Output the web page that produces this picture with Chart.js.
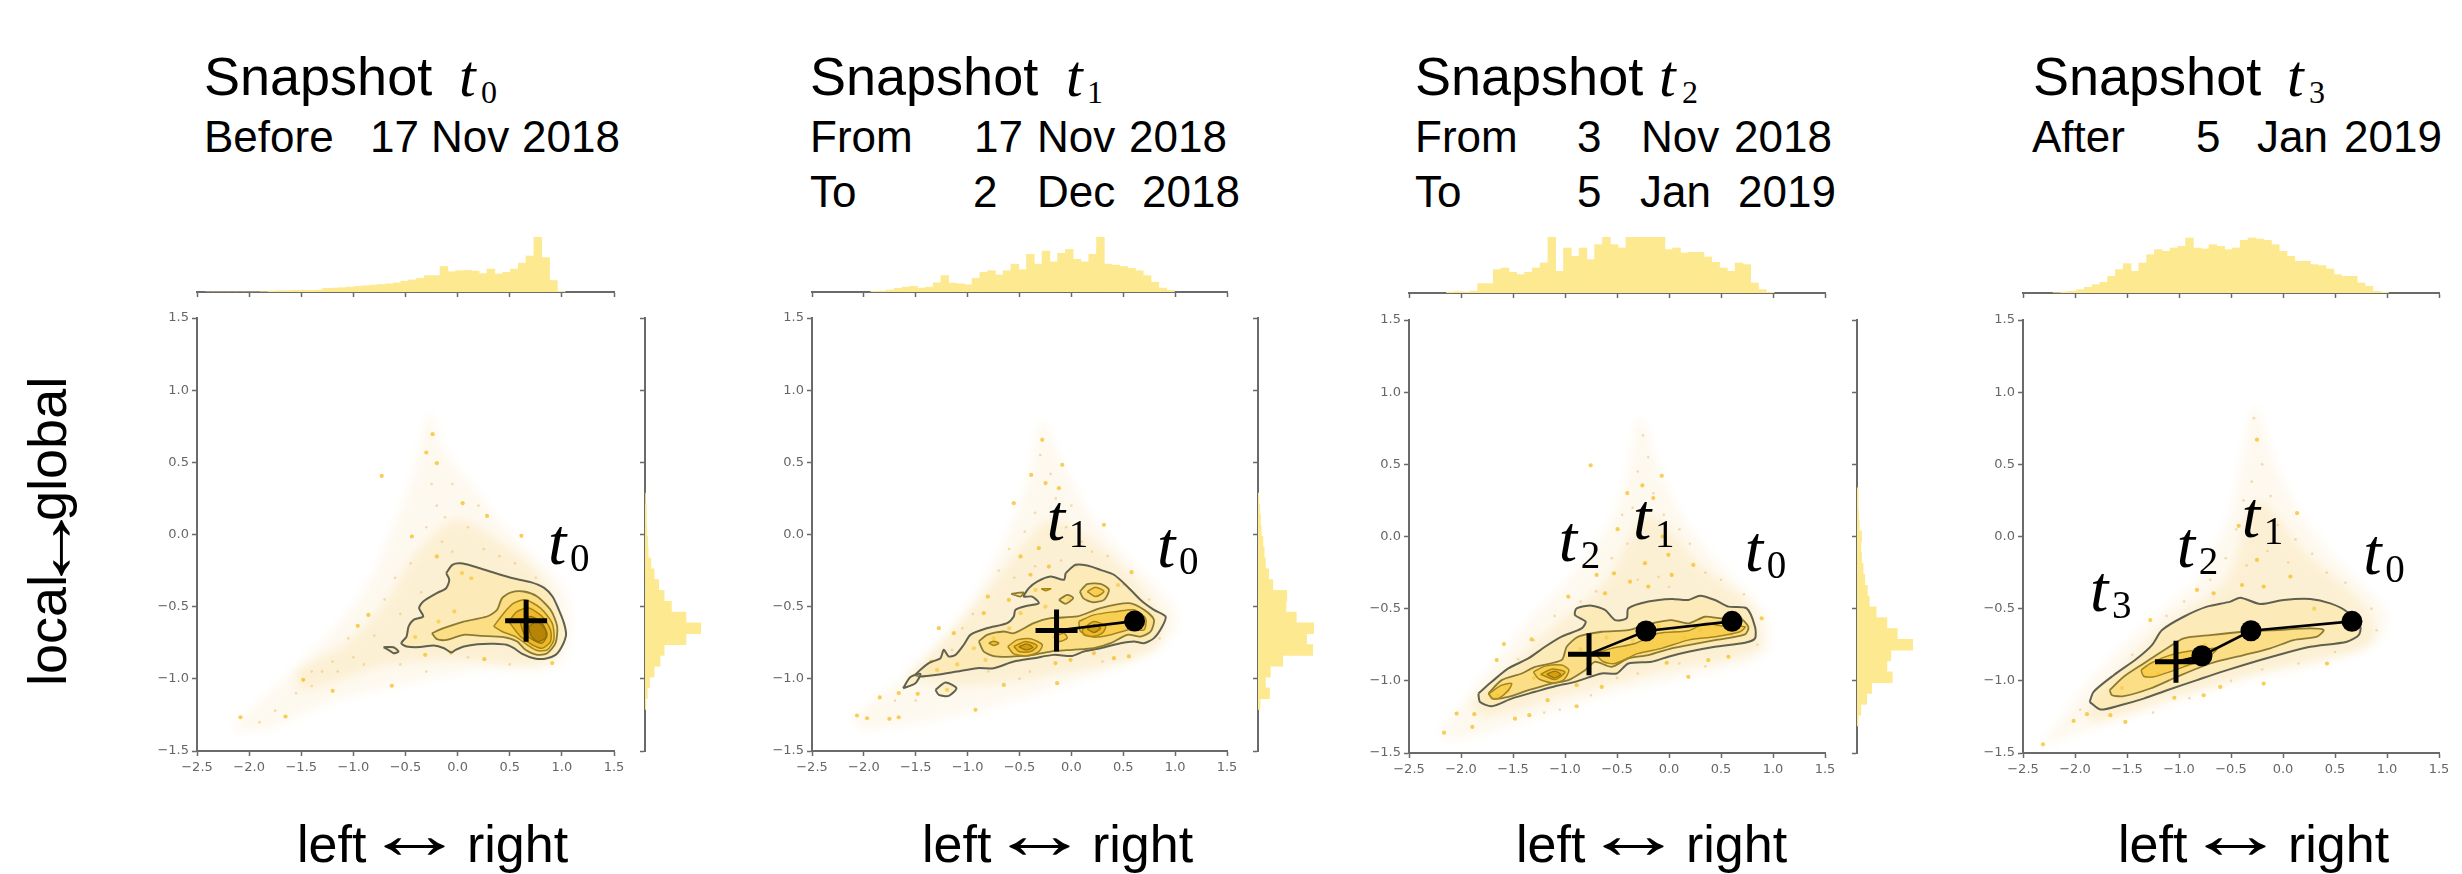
<!DOCTYPE html>
<html><head><meta charset="utf-8">
<script src="https://cdn.jsdelivr.net/npm/chart.js@4/dist/chart.umd.js"></script>
<style>
html,body{margin:0;padding:0;background:#fff;width:2462px;height:874px;overflow:hidden}
canvas{position:absolute;display:block;filter:blur(.35px)}
canvas.cloud{filter:blur(5px)}
.txt{position:absolute;white-space:nowrap;color:#000;font-family:"Liberation Sans",Arimo,sans-serif}
.math{position:absolute;white-space:nowrap;color:#000;font-family:"Liberation Serif",serif}
</style></head><body>
<script>
/* ---------- text ---------- */
const snapshotWord = 'Snapshot';
const axisXWords = ['left','\u2194','right'];
const axisYWords = ['local','\u2194','global'];
const t0Rows = [['Before','17','Nov','2018']];
const t1Rows = [['From','17','Nov','2018'],['To','2','Dec','2018']];
const t2Rows = [['From','3','Nov','2018'],['To','5','Jan','2019']];
const t3Rows = [['After','5','Jan','2019']];
const axisTicks = [-2.5,-2,-1.5,-1,-0.5,0,0.5,1,1.5];

/* ---------- top histograms ---------- */
const t0TopStart = -2.381;
const t0TopCounts = [0,0,0,0,0,0,0,1,3,4,4,5,5,5,6,11,12,13,15,17,19,21,23,25,28,33,37,42,50,50,78,62,65,66,64,56,70,55,60,70,88,110,168,105,35,2];
const t1TopStart = -1.895;
const t1TopCounts = [2,3,6,11,15,17,12,15,28,50,27,25,22,42,60,65,52,65,85,68,115,85,125,92,118,130,100,92,115,168,85,82,78,72,65,50,30,12,5];
const t2TopStart = -2.102;
const t2TopCounts = [3,4,3,6,28,28,70,75,62,55,62,75,90,168,65,135,110,135,100,145,168,145,135,168,168,168,168,168,130,135,120,122,122,108,92,75,65,90,85,30,10,2];
const t3TopStart = -2.174;
const t3TopCounts = [1,3,5,10,17,25,32,50,70,88,65,90,115,130,125,135,140,165,135,132,145,140,130,135,158,165,162,158,145,125,110,95,95,85,82,72,55,50,50,30,20,5,2];

/* ---------- right histograms ---------- */
const t0RightStart = 0.25;
const t0RightCounts = [1,3,3,4,6,7,13,20,30,42,58,90,123,90,42,33,20,10,5,2];
const t1RightStart = 0.25;
const t1RightCounts = [2,4,6,8,12,15,18,26,36,70,68,93,136,118,133,60,30,18,28,5];
const t2RightStart = 0.3;
const t2RightCounts = [3,3,4,6,12,10,12,16,20,27,32,50,78,105,146,88,78,92,38,25,10,3];

/* ---------- trajectories ---------- */
const t0Cross = [[0.657,-0.598]];
const t0Dots = [];
const t1Cross = [[-0.143,-0.665]];
const t1Dots = [[0.609,-0.600]];
const t2Cross = [[-0.769,-0.815]];
const t2Dots = [[-0.221,-0.655],[0.606,-0.588]];
const t3Cross = [[-1.029,-0.868]];
const t3Dots = [[-0.779,-0.826],[-0.308,-0.653],[0.663,-0.588]];

/* ---------- labels inside the plots ---------- */
const t0Marks = [['0',0.885,-0.200]];
const t1Marks = [['1',-0.217,-0.037],['0',0.844,-0.222]];
const t2Marks = [['2',-1.042,-0.167],['1',-0.327,-0.019],['0',0.747,-0.236]];
const t3Marks = [['3',-1.837,-0.514],['2',-1.003,-0.208],['1',-0.378,0.000],['0',0.792,-0.259]];

/* ---------- faint density clouds ---------- */
const t0CloudOuter = [[-2.186,-1.353],[-1.705,-1.03],[-1.224,-0.684],[-0.872,-0.36],[-0.615,0.055],[-0.423,0.425],[-0.263,0.841],[-0.135,0.587],[0.154,0.333],[0.41,0.079],[1.019,-0.383],[1.083,-0.684],[0.955,-0.915],[0.218,-0.938],[-0.615,-1.053],[-1.16,-1.145],[-1.865,-1.353]];
const t0CloudInner = [[-1.545,-0.938],[-1.064,-0.753],[-0.679,-0.453],[-0.423,-0.152],[-0.038,0.102],[0.282,0.009],[0.859,-0.36],[0.891,-0.868],[-0.103,-0.868],[-0.744,-0.915],[-1.128,-1.007],[-1.513,-1.076]];
const t1CloudOuter = [[-2.13,-1.284],[-1.584,-0.961],[-1.069,-0.568],[-0.683,-0.106],[-0.426,0.356],[-0.281,0.794],[-0.104,0.517],[0.153,0.171],[0.474,-0.106],[0.989,-0.499],[0.989,-0.684],[0.603,-0.868],[-0.104,-1.053],[-1.005,-1.238],[-1.969,-1.353]];
const t1CloudInner = [[-1.6,-1.0],[-1.0,-0.55],[-0.55,-0.15],[-0.2,0.1],[0.3,-0.1],[0.85,-0.55],[0.8,-0.8],[0.0,-0.95],[-1.0,-1.05]];
const t2CloudOuter = [[-2.218,-1.366],[-1.737,-0.926],[-1.288,-0.532],[-1.032,-0.347],[-0.583,0.069],[-0.391,0.463],[-0.279,0.833],[-0.103,0.486],[0.186,0.069],[0.571,-0.255],[0.923,-0.532],[0.923,-0.81],[0.186,-0.972],[-0.551,-1.088],[-1.353,-1.273],[-2.058,-1.412]];
const t2CloudInner = [[-1.9,-1.15],[-1.2,-0.68],[-0.6,-0.3],[-0.2,0.15],[0.3,-0.2],[0.8,-0.5],[0.85,-0.78],[0,-0.92],[-1,-1.1],[-1.8,-1.25]];
const t3CloudOuter = [[-2.333,-1.458],[-1.853,-0.995],[-1.276,-0.579],[-0.827,-0.301],[-0.506,0.162],[-0.378,0.602],[-0.266,0.903],[-0.09,0.532],[0.199,0.116],[0.583,-0.208],[1.0,-0.532],[0.904,-0.718],[0.263,-0.903],[-0.378,-0.995],[-1.18,-1.181],[-1.981,-1.366]];
const t3CloudInner = [[-1.9,-1.2],[-1.2,-0.65],[-0.55,-0.3],[-0.25,0.25],[0.2,-0.1],[0.8,-0.5],[0.85,-0.75],[0,-0.9],[-1,-1.1],[-1.8,-1.28]];

/* ---------- scatter points ---------- */
const t0Bright = [[0.048,0.217],[-0.439,-0.014],[-0.199,-0.152],[0.042,-0.268],[0.131,-0.303],[-0.032,-0.533],[-0.856,-0.557],[-0.958,-0.633],[-1.481,-1.007],[-1.199,-1.083],[-1.651,-1.261],[-2.083,-1.266],[-0.301,0.568],[-0.199,0.494],[-0.24,0.695],[-0.728,0.406],[0.282,0.129],[0.612,-0.009],[-0.631,-1.048],[0.256,-0.864],[-0.064,-0.818],[0.907,-0.891],[-0.183,-0.603],[-0.407,-0.711],[-0.311,-0.834]];
const t0Faint = [[-0.6,-0.3],[-0.45,-0.2],[-0.3,0.05],[-0.2,0.2],[-0.05,0.35],[0.1,0.05],[0.25,-0.1],[0.4,-0.15],[0.55,-0.2],[0.75,-0.3],[-0.7,-0.45],[-0.8,-0.7],[-1.0,-0.85],[-1.15,-0.95],[-1.3,-0.95],[-1.4,-1.05],[-1.55,-1.1],[-1.75,-1.22],[-1.9,-1.3],[-1.05,-0.72],[-0.9,-0.9],[-0.55,-0.9],[-0.3,-0.95],[0.1,-0.85],[0.5,-0.9],[-0.15,-0.05],[-0.05,-0.12],[0.2,0.2],[-0.35,-0.4],[-0.55,-0.55],[-0.25,0.35],[-0.12,0.12],[-1.2,-0.88],[-1.4,-0.95]];
const t1Bright = [[-2.066,-1.254],[-1.969,-1.273],[-1.754,-1.277],[-1.664,-1.266],[-0.924,-1.215],[-1.847,-1.129],[-1.664,-1.099],[-1.481,-1.104],[-1.294,-0.938],[-1.278,-0.649],[-1.133,-0.684],[-0.844,-0.545],[-0.805,-0.43],[-0.555,0.217],[-0.387,0.413],[-0.281,0.656],[-0.249,0.356],[-0.088,0.483],[-0.12,0.321],[0.314,0.067],[-0.314,-0.095],[-0.49,-0.152],[0.58,-0.261],[-0.137,-1.03],[-0.651,-1.042],[-0.153,-0.891],[-0.008,-0.868],[0.217,-0.822],[0.41,-0.857],[0.555,-0.845],[-0.346,-0.383],[-0.49,-0.545],[-0.94,-0.788],[-0.828,-0.868],[-1.198,-1.076],[-0.394,-0.279],[-0.217,-0.222],[-0.603,-0.453],[-0.6,-0.65],[-0.15,-0.72],[-0.02,-0.45],[-0.25,-0.5],[0.45,-0.35],[-1.1,-0.9],[-1.35,-0.88],[-0.75,-0.72]];
const t1Faint = [[-0.3,0.55],[-0.2,0.42],[-0.15,0.25],[0,0.2],[-0.35,0.15],[-0.45,0.02],[-0.6,-0.1],[-0.7,-0.25],[0.1,-0.05],[0.2,-0.12],[0.35,-0.15],[0.5,-0.35],[0.75,-0.45],[0.85,-0.72],[0.3,-0.88],[-0.4,-0.95],[-0.95,-0.55],[-1.05,-0.65],[-1.15,-0.8],[-1.5,-1.15],[-1.7,-1.15],[-0.8,-0.95],[-0.5,-1.0],[-0.05,0.05],[-0.2,0.0],[-0.1,-0.18],[-0.35,-0.22],[0.05,-0.22],[-0.55,-0.3]];
const t2Bright = [[-2.163,-1.359],[-2.042,-1.227],[-1.872,-1.231],[-1.891,-1.319],[-1.481,-1.262],[-1.343,-1.238],[-0.888,-1.176],[-1.167,-1.134],[-1.587,-0.745],[-1.657,-0.856],[-1.321,-0.713],[-0.494,0.051],[-0.256,0.354],[-0.753,0.493],[-0.151,0.266],[-0.061,0],[-0.696,-0.266],[-0.529,-0.255],[-0.375,-0.313],[-0.231,-0.185],[0.026,-0.266],[0.234,-0.197],[-0.006,-0.127],[-0.401,0.301],[-0.07,0.421],[-0.647,-1.042],[-0.022,-0.875],[0.186,-0.972],[0.378,-0.856],[0.571,-0.833],[-0.199,-0.347],[-0.968,-0.417],[0.891,-0.567],[-0.888,-1.03],[-0.615,-0.394],[-0.1,-0.62],[0.05,-0.65],[0.15,-0.7],[0.3,-0.65],[0.45,-0.62],[0.6,-0.68],[-0.35,-0.72],[-0.6,-0.7],[-0.85,-0.78],[-1.3,-0.98],[-1.55,-1.07],[-1.65,-1.1]];
const t2Faint = [[-0.25,0.7],[-0.2,0.55],[-0.3,0.45],[-0.15,0.3],[-0.35,0.2],[-0.45,0.15],[-0.05,0.15],[0.1,0.05],[0.2,-0.05],[-0.4,-0.05],[-0.55,-0.15],[-0.7,-0.38],[-0.85,-0.45],[-1.1,-0.55],[-1.3,-0.72],[-1.45,-0.85],[0.35,-0.25],[0.5,-0.3],[0.72,-0.4],[0.85,-0.75],[0.35,-0.9],[0.1,-0.88],[-0.3,-0.95],[-0.5,-0.98],[-0.75,-1.1],[-1.05,-1.2],[-1.2,-1.22],[0.0,-0.35],[-0.1,-0.28],[-0.3,-0.3]];
const t3Bright = [[-1.045,-1.118],[-2.308,-1.44],[-2.013,-1.278],[-1.885,-1.231],[-1.516,-1.285],[-1.66,-1.238],[-0.426,0.074],[-0.25,0.671],[-0.827,-0.37],[-0.667,-0.394],[-0.394,-0.336],[-0.186,-0.347],[0.135,0.162],[-0.763,-1.1],[0.423,-0.88],[-0.603,-1.042],[-0.186,-1.019],[-1.276,-0.579],[-0.25,-0.162],[0.071,-0.278],[-1.55,-1.05],[-1.2,-0.95],[-0.75,-0.75],[0.3,-0.5],[0.25,-0.62]];
const t3Faint = [[-0.28,0.82],[-0.2,0.5],[-0.3,0.38],[-0.12,0.28],[-0.38,0.25],[-0.45,0.05],[-0.05,0.08],[0.12,-0.02],[0.28,-0.12],[-0.55,-0.15],[-0.7,-0.3],[-0.95,-0.45],[-1.12,-0.55],[-1.45,-0.82],[-1.6,-0.95],[0.42,-0.25],[0.6,-0.32],[0.85,-0.5],[0.9,-0.65],[0.5,-0.8],[0.15,-0.88],[-0.2,-0.92],[-0.5,-1.0],[-0.9,-1.12],[-1.25,-1.22],[-1.95,-1.2],[-0.15,-0.1],[0.05,-0.18],[-0.35,-0.2]];

/* ---------- density contours, panel t0 ---------- */
const t0C1 = [[-0.11,-0.268],[-0.05,-0.21],[0.03,-0.2],[0.15,-0.22],[0.31,-0.256],[0.51,-0.3],[0.7,-0.33],[0.83,-0.37],[0.91,-0.43],[0.97,-0.52],[1.02,-0.614],[1.04,-0.695],[1.0,-0.776],[0.94,-0.834],[0.84,-0.861],[0.73,-0.857],[0.62,-0.827],[0.54,-0.788],[0.47,-0.764],[0.35,-0.757],[0.19,-0.76],[0.06,-0.776],[-0.02,-0.8],[-0.06,-0.818],[-0.13,-0.788],[-0.23,-0.769],[-0.36,-0.78],[-0.49,-0.776],[-0.54,-0.753],[-0.49,-0.707],[-0.47,-0.637],[-0.42,-0.59],[-0.33,-0.568],[-0.37,-0.51],[-0.33,-0.464],[-0.2,-0.406],[-0.11,-0.372],[-0.08,-0.314]];
const t0C2 = [[-0.247,-0.684],[-0.135,-0.649],[0.058,-0.603],[0.282,-0.568],[0.378,-0.522],[0.426,-0.441],[0.506,-0.402],[0.635,-0.395],[0.763,-0.43],[0.891,-0.522],[0.955,-0.637],[0.939,-0.753],[0.859,-0.822],[0.763,-0.834],[0.651,-0.799],[0.571,-0.741],[0.442,-0.711],[0.218,-0.702],[0.058,-0.695],[-0.103,-0.73],[-0.199,-0.725]];
const t0C3 = [[0.346,-0.637],[0.442,-0.545],[0.538,-0.476],[0.651,-0.453],[0.795,-0.51],[0.907,-0.614],[0.923,-0.73],[0.859,-0.799],[0.763,-0.804],[0.667,-0.764],[0.554,-0.707],[0.426,-0.672]];
const t0C4 = [[0.49,-0.603],[0.571,-0.533],[0.683,-0.51],[0.811,-0.568],[0.891,-0.661],[0.891,-0.741],[0.811,-0.788],[0.715,-0.764],[0.603,-0.707]];
const t0C5 = [[0.603,-0.614],[0.699,-0.568],[0.811,-0.614],[0.859,-0.695],[0.811,-0.753],[0.731,-0.734],[0.635,-0.684]];
const t0C6 = [[0.683,-0.637],[0.763,-0.603],[0.843,-0.661],[0.843,-0.718],[0.763,-0.741],[0.699,-0.695]];
const t0Isle = [[-0.712,-0.781],[-0.616,-0.781],[-0.567,-0.811],[-0.616,-0.822],[-0.664,-0.799]];

/* ---------- density contours, panel t1 ---------- */
const t1C1 = [[-0.056,-0.268],[0.04,-0.21],[0.153,-0.215],[0.281,-0.245],[0.41,-0.279],[0.539,-0.36],[0.667,-0.453],[0.796,-0.522],[0.908,-0.568],[0.876,-0.637],[0.796,-0.718],[0.7,-0.753],[0.603,-0.741],[0.474,-0.753],[0.281,-0.788],[0.12,-0.811],[0.008,-0.841],[-0.169,-0.834],[-0.362,-0.857],[-0.555,-0.88],[-0.748,-0.926],[-0.908,-0.926],[-1.101,-0.949],[-1.294,-0.972],[-1.455,-0.984],[-1.503,-0.972],[-1.375,-0.891],[-1.262,-0.857],[-1.23,-0.799],[-1.182,-0.845],[-1.117,-0.834],[-1.037,-0.764],[-0.973,-0.695],[-0.812,-0.649],[-0.619,-0.614],[-0.555,-0.568],[-0.539,-0.522],[-0.426,-0.494],[-0.314,-0.476],[-0.378,-0.43],[-0.458,-0.43],[-0.41,-0.372],[-0.33,-0.326],[-0.201,-0.291],[-0.072,-0.314]];
const t1C2 = [[-0.892,-0.741],[-0.812,-0.695],[-0.651,-0.672],[-0.555,-0.684],[-0.362,-0.614],[-0.201,-0.58],[0.056,-0.568],[0.281,-0.51],[0.555,-0.476],[0.7,-0.522],[0.796,-0.591],[0.764,-0.672],[0.667,-0.707],[0.539,-0.695],[0.378,-0.753],[0.217,-0.788],[0.008,-0.799],[-0.201,-0.811],[-0.362,-0.834],[-0.555,-0.845],[-0.732,-0.845],[-0.844,-0.811]];
const t1C3 = [[0.072,-0.603],[0.217,-0.557],[0.442,-0.533],[0.603,-0.522],[0.715,-0.58],[0.7,-0.66],[0.555,-0.66],[0.378,-0.695],[0.217,-0.711],[0.088,-0.672]];
const t1C4 = [[0.104,-0.66],[0.217,-0.603],[0.33,-0.637],[0.297,-0.684],[0.201,-0.707],[0.12,-0.695]];
const t1C5 = [[0.153,-0.656],[0.217,-0.626],[0.281,-0.649],[0.217,-0.679]];
const t1C6 = [[-0.613,-0.776],[-0.522,-0.73],[-0.394,-0.723],[-0.281,-0.764],[-0.314,-0.811],[-0.426,-0.841],[-0.555,-0.827]];
const t1C7 = [[-0.555,-0.776],[-0.442,-0.741],[-0.33,-0.771],[-0.394,-0.811],[-0.506,-0.811]];
const t1C8 = [[-0.506,-0.778],[-0.432,-0.758],[-0.371,-0.782],[-0.432,-0.8]];
const t1C9 = [[-0.796,-0.753],[-0.748,-0.739],[-0.699,-0.753],[-0.748,-0.769]];
const t1Ring = [[0.082,-0.395],[0.153,-0.344],[0.281,-0.342],[0.362,-0.383],[0.314,-0.453],[0.201,-0.469],[0.114,-0.441]];
const t1RingIn = [[0.153,-0.395],[0.233,-0.365],[0.314,-0.395],[0.233,-0.43]];
const t1Small1 = [[-0.12,-0.453],[-0.04,-0.418],[0.018,-0.441],[-0.056,-0.48]];
const t1Small2 = [[-0.29,-0.376],[-0.2,-0.376],[-0.25,-0.39]];
const t1Small3 = [[-0.58,-0.411],[-0.46,-0.402],[-0.49,-0.43]];
const t1Small4 = [[-0.169,-0.707],[-0.072,-0.684],[-0.04,-0.718],[-0.12,-0.741]];
const t1Isle1 = [[-1.31,-1.076],[-1.214,-1.025],[-1.108,-1.065],[-1.182,-1.118],[-1.278,-1.111]];
const t1Isle2 = [[-1.622,-1.065],[-1.551,-0.988],[-1.455,-0.965],[-1.503,-1.03]];

/* ---------- density contours, panel t2 ---------- */
const t2C1 = [[-1.833,-1.088],[-1.705,-1.007],[-1.545,-0.914],[-1.353,-0.845],[-1.192,-0.764],[-1.032,-0.694],[-0.84,-0.637],[-0.801,-0.59],[-0.904,-0.544],[-0.888,-0.498],[-0.744,-0.479],[-0.615,-0.509],[-0.519,-0.579],[-0.407,-0.567],[-0.391,-0.498],[-0.199,-0.451],[0.026,-0.433],[0.186,-0.44],[0.298,-0.41],[0.442,-0.44],[0.571,-0.486],[0.747,-0.498],[0.827,-0.625],[0.827,-0.706],[0.731,-0.736],[0.442,-0.764],[0.186,-0.799],[-0.006,-0.833],[-0.167,-0.868],[-0.391,-0.88],[-0.503,-0.949],[-0.647,-0.949],[-0.904,-1.007],[-1.096,-1.037],[-1.288,-1.076],[-1.513,-1.123],[-1.705,-1.176],[-1.817,-1.146]];
const t2C2 = [[-1.737,-1.088],[-1.609,-0.995],[-1.417,-0.949],[-1.288,-0.903],[-1.032,-0.856],[-0.984,-0.764],[-0.872,-0.694],[-0.647,-0.66],[-0.391,-0.648],[-0.135,-0.597],[0.026,-0.579],[0.186,-0.602],[0.346,-0.556],[0.506,-0.567],[0.667,-0.556],[0.763,-0.625],[0.731,-0.678],[0.442,-0.718],[0.186,-0.752],[0.026,-0.775],[-0.199,-0.822],[-0.391,-0.845],[-0.551,-0.903],[-0.712,-0.868],[-0.808,-0.926],[-0.968,-0.995],[-1.128,-1.019],[-1.353,-1.065],[-1.545,-1.111],[-1.689,-1.123]];
const t2C3 = [[-0.712,-0.81],[-0.551,-0.775],[-0.327,-0.741],[-0.103,-0.671],[0.186,-0.653],[0.346,-0.602],[0.506,-0.62],[0.731,-0.625],[0.683,-0.66],[0.442,-0.695],[0.186,-0.718],[-0.071,-0.775],[-0.295,-0.81],[-0.519,-0.88],[-0.631,-0.868]];
const t2C4 = [[-1.731,-1.088],[-1.609,-1.03],[-1.513,-1.019],[-1.545,-1.065],[-1.641,-1.123],[-1.705,-1.123]];
const t2C5 = [[-1.304,-0.938],[-1.192,-0.898],[-1.032,-0.891],[-0.962,-0.926],[-1.016,-0.995],[-1.128,-1.014],[-1.256,-0.984]];
const t2C6 = [[-1.234,-0.954],[-1.128,-0.919],[-1.0,-0.938],[-1.096,-0.991]];
const t2C7 = [[-1.176,-0.954],[-1.096,-0.933],[-1.042,-0.956],[-1.103,-0.979]];

/* ---------- density contours, panel t3 ---------- */
const t3C1 = [[-1.859,-1.146],[-1.821,-1.076],[-1.628,-0.961],[-1.404,-0.845],[-1.26,-0.752],[-1.163,-0.648],[-0.955,-0.556],[-0.731,-0.486],[-0.506,-0.451],[-0.41,-0.424],[-0.218,-0.468],[0.006,-0.44],[0.263,-0.433],[0.455,-0.463],[0.615,-0.521],[0.744,-0.625],[0.728,-0.683],[0.615,-0.729],[0.263,-0.764],[0.006,-0.81],[-0.218,-0.856],[-0.538,-0.926],[-0.827,-0.995],[-1.115,-1.065],[-1.34,-1.123],[-1.564,-1.169],[-1.756,-1.199]];
const t3C2 = [[-1.667,-1.065],[-1.532,-0.972],[-1.34,-0.88],[-1.115,-0.775],[-0.955,-0.706],[-0.699,-0.683],[-0.378,-0.66],[-0.058,-0.648],[0.263,-0.637],[0.391,-0.648],[0.327,-0.694],[0.103,-0.718],[-0.122,-0.775],[-0.378,-0.822],[-0.699,-0.88],[-1.019,-0.972],[-1.276,-1.053],[-1.532,-1.106],[-1.644,-1.1]];
const t3C3 = [[-1.365,-0.926],[-1.276,-0.88],[-1.083,-0.822],[-0.827,-0.787],[-0.635,-0.775],[-0.715,-0.833],[-0.955,-0.903],[-1.244,-0.972],[-1.34,-0.968]];

/* ---------- styling tables ---------- */
const LEVELS = [
 null,
 {line:'#60604f',w:2,   fill:'rgba(251,222,135,.34)'},
 {line:'#8a7a32',w:1.8, fill:'rgba(250,210,80,.50)'},
 {line:'#a5841e',w:1.5, fill:'rgba(246,195,40,.55)'},
 {line:'#a88410',w:1.5, fill:'rgba(232,170,20,.62)'},
 {line:'#94740a',w:1.3, fill:'rgba(205,150,10,.75)'},
 {line:'#8a6c08',w:1.2, fill:'rgba(178,130,6,.90)'}
];
const PANELS = [
 {x0:197,x1:614,y0:318,y1:751,topY:292,rightX:645,sub:'0',headX:204,tX:459,sX:481,rows:t0Rows,
  rowX:[[204,370,431,522]],xLab:297,
  top:[t0TopStart,t0TopCounts],right:[t0RightStart,t0RightCounts,123],
  cross:t0Cross,dots:t0Dots,marks:t0Marks,cloud:[t0CloudOuter,t0CloudInner],bright:t0Bright,faint:t0Faint,
  contours:[[t0C1,1],[t0Isle,1],[t0C2,2],[t0C3,3],[t0C4,4],[t0C5,5],[t0C6,6]]},
 {x0:812,x1:1227,y0:318,y1:751,topY:292,rightX:1258,sub:'1',headX:810,tX:1066,sX:1087,rows:t1Rows,
  rowX:[[810,974,1037,1129],[810,973,1037,1142]],xLab:922,
  top:[t1TopStart,t1TopCounts],right:[t1RightStart,t1RightCounts,136],
  cross:t1Cross,dots:t1Dots,marks:t1Marks,cloud:[t1CloudOuter,t1CloudInner],bright:t1Bright,faint:t1Faint,
  contours:[[t1C1,1],[t1Isle1,1],[t1Isle2,1],[t1C2,2],[t1C3,3],[t1C4,4],[t1C5,5],[t1C6,3],[t1C7,4],[t1C8,5],[t1C9,4],[t1Ring,2],[t1RingIn,3],[t1Small1,2],[t1Small2,4],[t1Small3,2],[t1Small4,3]]},
 {x0:1409,x1:1825,y0:320,y1:753,topY:293,rightX:1857,sub:'2',headX:1415,tX:1659,sX:1682,rows:t2Rows,
  rowX:[[1415,1577,1641,1734],[1415,1577,1640,1738]],xLab:1516,
  top:[t2TopStart,t2TopCounts],right:[t2RightStart,t2RightCounts,146],
  cross:t2Cross,dots:t2Dots,marks:t2Marks,cloud:[t2CloudOuter,t2CloudInner],bright:t2Bright,faint:t2Faint,
  contours:[[t2C1,1],[t2C2,2],[t2C3,3],[t2C4,3],[t2C5,3],[t2C6,4],[t2C7,5]]},
 {x0:2023,x1:2439,y0:320,y1:753,topY:293,rightX:null,sub:'3',headX:2033,tX:2287,sX:2309,rows:t3Rows,
  rowX:[[2032,2196,2257,2344]],xLab:2118,
  top:[t3TopStart,t3TopCounts],right:null,
  cross:t3Cross,dots:t3Dots,marks:t3Marks,cloud:[t3CloudOuter,t3CloudInner],bright:t3Bright,faint:t3Faint,
  contours:[[t3C1,1],[t3C2,2],[t3C3,3]]}
];
const AXIS='#6a6a6a', HIST='#fde98f', BIN=0.075;
const TICK_FONT={family:'"DejaVu Sans"',size:13};
const xy=a=>a.map(p=>({x:p[0],y:p[1]}));
const closed=a=>xy(a.concat([a[0]]));
const fmt=v=>(v<0?'\u2212':'')+Math.abs(v).toFixed(1);
Chart.defaults.animation=false;

function mkCanvas(l,t,w,h,cls){
  const c=document.createElement('canvas');
  c.width=w;c.height=h;c.style.left=l+'px';c.style.top=t+'px';c.style.width=w+'px';c.style.height=h+'px';
  if(cls)c.className=cls;
  document.body.appendChild(c);return c;
}
function text(str,x,base,size){
  const s=document.createElement('span');s.className='txt';s.textContent=str;
  s.style.left=x+'px';s.style.fontSize=size+'px';s.style.lineHeight='normal';
  s.style.top=(base-0.922*size)+'px';document.body.appendChild(s);return s;
}
function math(sym,sub,x,base,sx,subBase,size,subSize){
  const a=document.createElement('span');a.className='math';a.style.fontStyle='italic';a.textContent=sym;
  a.style.left=x+'px';a.style.fontSize=size+'px';a.style.top=(base-0.907*size)+'px';a.style.lineHeight=1.149;document.body.appendChild(a);
  const b=document.createElement('span');b.className='math';b.textContent=sub;
  b.style.left=sx+'px';b.style.fontSize=subSize+'px';b.style.top=(subBase-0.907*subSize)+'px';b.style.lineHeight=1.149;document.body.appendChild(b);
}
const baseOpts=()=>({responsive:false,maintainAspectRatio:false,events:[],animation:false,
  plugins:{legend:{display:false},tooltip:{enabled:false},title:{display:false}},
  layout:{autoPadding:false,padding:0}});

function mainScales(x,y){
  const L=45,B=28;
  return {
    x:{type:'linear',min:-2.5,max:1.5,position:'bottom',afterFit:s=>{s.height=B},
       afterBuildTicks:s=>{s.ticks=axisTicks.map(v=>({value:v}))},
       border:{color:AXIS,width:x?2:0},grid:{display:!!x,drawOnChartArea:false,color:AXIS,tickLength:5,tickWidth:1.5,tickColor:AXIS},
       ticks:{display:!!x,color:'#666',font:TICK_FONT,maxRotation:0,autoSkip:false,padding:4,callback:fmt}},
    y:{type:'linear',min:-1.5,max:1.5,position:'left',afterFit:s=>{s.width=L},
       afterBuildTicks:s=>{s.ticks=[-1.5,-1,-0.5,0,0.5,1,1.5].map(v=>({value:v}))},
       border:{color:AXIS,width:y?2:0},grid:{display:!!y,drawOnChartArea:false,color:AXIS,tickLength:5,tickWidth:1.5,tickColor:AXIS},
       ticks:{display:!!y,color:'#666',font:TICK_FONT,autoSkip:false,padding:3,callback:fmt}}
  };
}

PANELS.forEach(p=>{
  const W=p.x1-p.x0,H=p.y1-p.y0,L=45,T=12,R=25,B=28;
  const left=p.x0-L,top=p.y0-T,cw=W+L+R,ch=H+T+B;

  /* soft background cloud */
  const co=baseOpts();co.layout.padding={top:T,right:R,left:0,bottom:0};co.scales=mainScales(false,false);
  new Chart(mkCanvas(left,top,cw,ch,'cloud'),{type:'scatter',
    data:{datasets:[
      {data:closed(p.cloud[0]),showLine:true,fill:'shape',tension:.3,pointRadius:0,borderWidth:0,backgroundColor:'rgba(252,232,190,.24)',order:2},
      {data:closed(p.cloud[1]),showLine:true,fill:'shape',tension:.3,pointRadius:0,borderWidth:0,backgroundColor:'rgba(250,218,150,.30)',order:1}
    ]},options:co});

  /* main scatter */
  const ds=[];let ord=0;const add=d=>{d.order=--ord;ds.push(d)};
  add({data:xy(p.faint),pointRadius:1.3,pointBackgroundColor:'rgba(238,190,110,.55)',pointBorderWidth:0});
  add({data:xy(p.bright),pointRadius:2.1,pointBackgroundColor:'rgba(245,190,30,.75)',pointBorderWidth:0});
  p.contours.forEach(([pts,lv])=>{const S=LEVELS[lv];
    add({data:closed(pts),showLine:true,fill:'shape',tension:.25,pointRadius:0,borderColor:S.line,borderWidth:S.w,backgroundColor:S.fill});
  });
  const path=p.dots.slice().reverse().concat(p.cross);
  if(p.dots.length){
    add({data:xy(path),showLine:true,pointRadius:0,borderColor:'#000',borderWidth:2.6,tension:0,fill:false});
    add({data:xy(p.dots),pointRadius:10.5,pointBackgroundColor:'#000',pointBorderWidth:0});
  }
  add({data:xy(p.cross),pointStyle:'cross',pointRadius:21,pointBorderColor:'#000',pointBorderWidth:5,pointBackgroundColor:'#000'});
  const mo=baseOpts();mo.layout.padding={top:T,right:R,left:0,bottom:0};mo.scales=mainScales(true,true);
  const main=new Chart(mkCanvas(left,top,cw,ch),{type:'scatter',data:{datasets:ds},options:mo});

  /* labels anchored by data values */
  p.marks.forEach(([s,x,y])=>{
    const px=left+main.scales.x.getPixelForValue(x)-2,py=top+main.scales.y.getPixelForValue(y);
    math('t',s,px,py,px+22,py+8,66,39);
  });

  /* top histogram */
  const tp=7,tH=p.topY-237;
  const to=baseOpts();to.layout.padding={top:0,left:2,right:2,bottom:0};
  to.scales={
    x:{type:'linear',offset:false,min:-2.5,max:1.5,position:'bottom',afterFit:s=>{s.height=tp},
       afterBuildTicks:s=>{s.ticks=axisTicks.map(v=>({value:v}))},
       border:{color:AXIS,width:2},grid:{drawOnChartArea:false,offset:false,color:AXIS,tickLength:5,tickWidth:1.5,tickColor:AXIS},ticks:{display:false}},
    y:{display:false,min:0,max:168}
  };
  new Chart(mkCanvas(p.x0-2,237,W+4,tH+tp),{type:'bar',
    data:{datasets:[{data:p.top[1].map((v,i)=>({x:p.top[0]+i*BIN,y:v})),backgroundColor:HIST,borderWidth:0,barPercentage:1,categoryPercentage:1}]},options:to});

  /* right histogram */
  if(p.right){
    const ro=baseOpts();ro.indexAxis='y';ro.layout.padding={top:2,bottom:2,left:0,right:0};
    ro.scales={
      y:{type:'linear',offset:false,min:-1.5,max:1.5,position:'left',afterFit:s=>{s.width=tp},
         afterBuildTicks:s=>{s.ticks=[-1.5,-1,-0.5,0,0.5,1,1.5].map(v=>({value:v}))},
         border:{color:AXIS,width:2},grid:{drawOnChartArea:false,offset:false,color:AXIS,tickLength:5,tickWidth:1.5,tickColor:AXIS},ticks:{display:false}},
      x:{display:false,min:0,max:p.right[2]}
    };
    new Chart(mkCanvas(p.rightX-tp,p.y0-2,tp+56,H+4),{type:'bar',
      data:{datasets:[{data:p.right[1].map((v,i)=>({x:v,y:p.right[0]-i*BIN})),backgroundColor:HIST,borderWidth:0,barPercentage:1,categoryPercentage:1}]},options:ro});
  }

  /* headings */
  text(snapshotWord,p.headX,95,54);
  math('t',p.sub,p.tX,96,p.sX,103,60,32);
  p.rows.forEach((row,ri)=>{row.forEach((w,i)=>{text(w,p.rowX[ri][i],153+ri*55,44)})});
  text(axisXWords[0],p.xLab,862,52);
  const ar=text(axisXWords[1],p.xLab+67,859,70);
  ar.style.transformOrigin='0 50%';ar.style.transform='scaleX(1.45)';
  text(axisXWords[2],p.xLab+170,862,52);
});
/* shared y title */
const yBox=document.createElement('div');yBox.className='txt';
yBox.style.cssText='left:47px;top:686px;font-size:54px;line-height:0;transform-origin:0 0;transform:rotate(-90deg);height:0';
const yA=document.createElement('span');yA.textContent=axisYWords[0];
const yB=document.createElement('span');yB.textContent=axisYWords[1];
yB.style.cssText='display:inline-block;font-size:70px;width:54px;vertical-align:-7px;transform-origin:0 50%;transform:translateX(-20px) scaleX(1.35)';
const yC=document.createElement('span');yC.textContent=axisYWords[2];
yBox.append(yA,yB,yC);document.body.appendChild(yBox);
</script>
</body></html>
